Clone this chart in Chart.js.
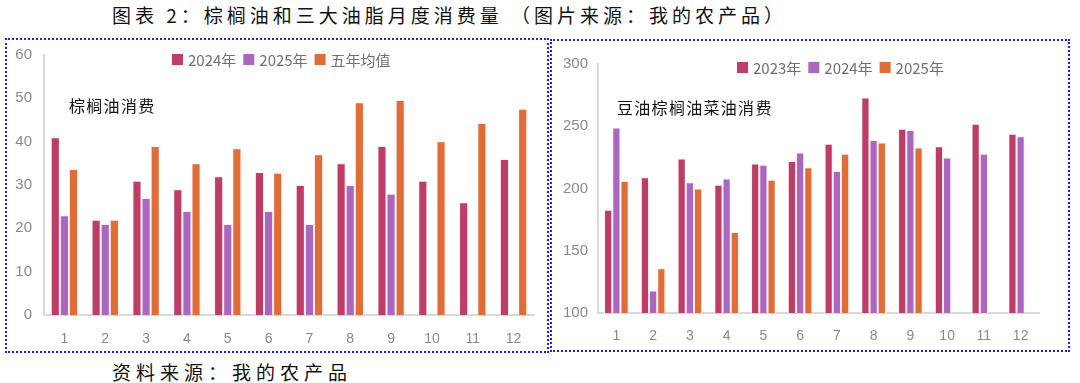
<!DOCTYPE html>
<html>
<head>
<meta charset="utf-8">
<script src="https://cdn.jsdelivr.net/npm/chart.js@4.4.1/dist/chart.umd.min.js"></script>
<style>
    body {
        margin: 0;
        width: 1080px;
        height: 383px;
        background: #fff;
        position: relative;
        overflow: hidden;
        font-family: "Noto Sans CJK SC", sans-serif;
    }
    .caption {
        position: absolute;
        left: 112px;
        font-size: 19px;
        letter-spacing: 4px;
        color: #111;
        white-space: nowrap;
        line-height: 1;
    }
    .box {
        position: absolute;
        border: 2px dotted #1a1aff;
        box-sizing: border-box;
    }
    .chart {
        position: absolute;
    }
    .note {
        position: absolute;
        font-size: 16px;
        letter-spacing: 1.3px;
        color: #111;
        white-space: nowrap;
        line-height: 1;
    }
</style>
</head>
<body>
<div class="caption" style="top:5px">图表 2：棕榈油和三大油脂月度消费量 （图片来源：我的农产品）</div>
<div class="box" style="left:5px;top:38px;width:544px;height:315px"></div>
<div class="box" style="left:550px;top:39px;width:520px;height:313px"></div>
<canvas id="palm-chart" class="chart" width="548" height="310" style="left:0;top:40px"></canvas>
<canvas id="oils-chart" class="chart" width="520" height="312" style="left:550px;top:40px"></canvas>
<div class="note" style="left:69px;top:97px">棕榈油消费</div>
<div class="note" style="left:617px;top:99px">豆油棕榈油菜油消费</div>
<div class="caption" style="top:362px;letter-spacing:5px">资料来源：我的农产品</div>

<script>
// Months on the x axis
const months = ['1', '2', '3', '4', '5', '6', '7', '8', '9', '10', '11', '12'];

// Palm oil consumption (left chart)
const palm2024 = [41, 22, 31, 29, 32, 33, 30, 35, 39, 31, 26, 36];
const palm2025 = [23, 21, 27, 24, 21, 24, 21, 30, 28, null, null, null];
const palmAvg5y = [33.7, 22, 39, 35, 38.5, 32.8, 37.1, 49.1, 49.6, 40.1, 44.3, 47.6];

// Soybean + palm + rapeseed oil consumption (right chart)
const oils2023 = [183, 209, 224, 203, 220, 222, 236, 273, 248, 234, 252, 244];
const oils2024 = [249, 118, 205, 208, 219, 229, 214, 239, 247, 225, 228, 242];
const oils2025 = [206, 136, 200, 165, 207, 217, 228, 237, 233, null, null, null];

// Colours
const crimson = '#bd3d67';
const purple = '#ab66bd';
const orange = '#e06d35';

// Legend drawn inside the plot area, at a given position
const inlineLegend = {
    id: 'inlineLegend',
    afterDraw(chart, args, opts) {
        const ctx = chart.ctx;
        let x = opts.x;
        const y = opts.y;
        ctx.save();
        ctx.font = '15px "Noto Sans CJK SC", sans-serif';
        ctx.textBaseline = 'middle';
        chart.data.datasets.forEach(ds => {
            ctx.fillStyle = ds.backgroundColor;
            ctx.fillRect(x, y - 5.5, 11, 11);
            ctx.fillStyle = '#707070';
            ctx.fillText(ds.label, x + 16, y + 1);
            x += 16 + ctx.measureText(ds.label).width + 7;
        });
        ctx.restore();
    }
};

function barSet(label, data, color) {
    return {
        label: label,
        data: data,
        backgroundColor: color,
        borderColor: 'rgba(255, 235, 240, 0.9)',
        borderWidth: 1,
        borderSkipped: 'bottom',
        barPercentage: 1,
        categoryPercentage: 0.67
    };
}

function makeChart(id, datasets, yMin, yMax, step, axisWidth, yPad, axisHeight, xPad, padTop, padRight, legendPos) {
    const ctx = document.getElementById(id).getContext('2d');
    return new Chart(ctx, {
        type: 'bar',
        data: {
            labels: months,
            datasets: datasets
        },
        plugins: [inlineLegend],
        options: {
            responsive: false,
            animation: false,
            layout: {
                padding: { top: padTop, right: padRight, left: 0, bottom: 0 }
            },
            plugins: {
                legend: { display: false },
                tooltip: { enabled: false },
                inlineLegend: legendPos
            },
            scales: {
                x: {
                    grid: { display: false },
                    border: { display: true, color: '#d9d9d9', width: 2 },
                    ticks: {
                        color: '#8a8a8a',
                        font: { size: 14, family: 'Liberation Sans, Arial, sans-serif' },
                        padding: xPad
                    },
                    afterFit: scale => { scale.height = axisHeight; }
                },
                y: {
                    min: yMin,
                    max: yMax,
                    grid: { display: false },
                    border: { display: true, color: '#d9d9d9', width: 2 },
                    ticks: {
                        stepSize: step,
                        color: '#8a8a8a',
                        font: { size: 15, family: 'Liberation Sans, Arial, sans-serif' },
                        padding: yPad
                    },
                    afterFit: scale => { scale.width = axisWidth; }
                }
            }
        }
    });
}

makeChart('palm-chart', [
    barSet('2024年', palm2024, crimson),
    barSet('2025年', palm2025, purple),
    barSet('五年均值', palmAvg5y, orange)
], 0, 60, 10, 44, 4, 35, 8, 15, 14, { x: 172, y: 19.5 });

makeChart('oils-chart', [
    barSet('2023年', oils2023, crimson),
    barSet('2024年', oils2024, purple),
    barSet('2025年', oils2025, orange)
], 100, 300, 50, 48, 2, 39, 7, 24, 31, { x: 187, y: 27.5 });
</script>
</body>
</html>
